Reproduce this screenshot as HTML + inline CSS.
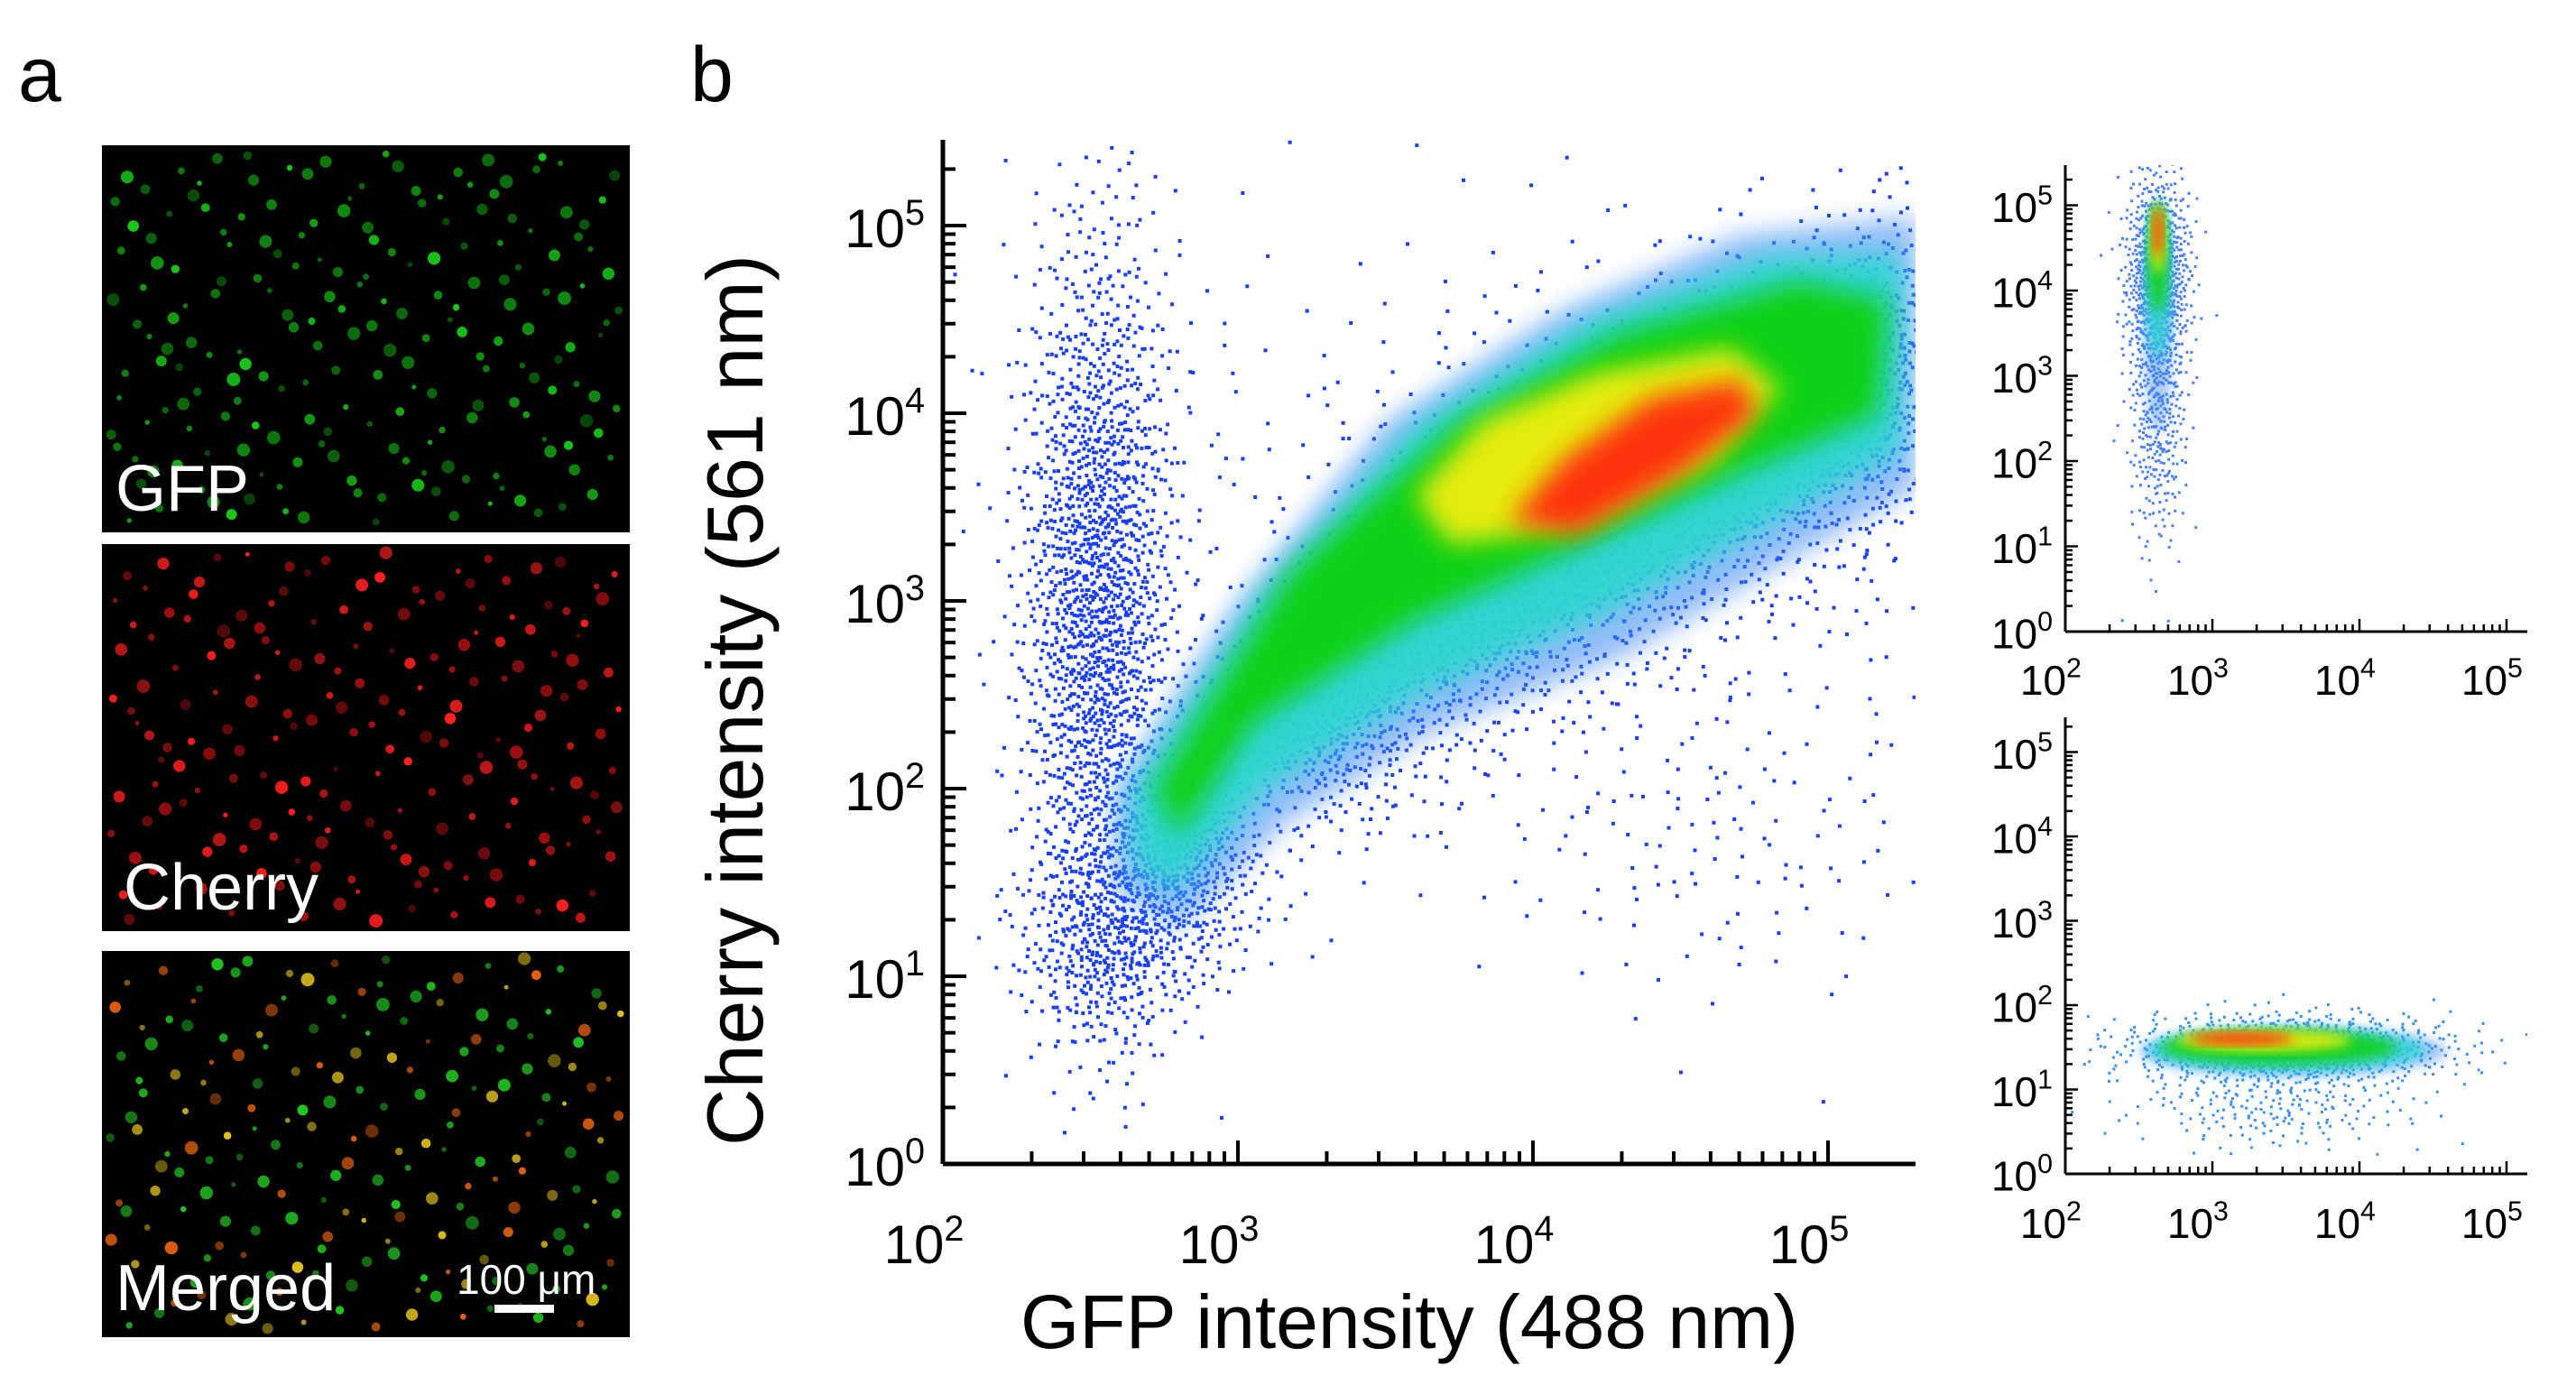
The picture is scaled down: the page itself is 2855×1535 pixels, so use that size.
<!DOCTYPE html>
<html><head><meta charset="utf-8">
<style>
html,body{margin:0;padding:0;background:#fff;}
svg{display:block;}
text{font-family:"Liberation Sans",Arial,sans-serif;}
.nar{font-family:"Liberation Sans Narrow","Liberation Sans",sans-serif;}
</style></head>
<body>
<svg id="fig" width="2855" height="1535" viewBox="0 0 2855 1535" xmlns="http://www.w3.org/2000/svg">
<defs>
<filter id="blur" x="-20%" y="-20%" width="140%" height="140%"><feGaussianBlur stdDeviation="14"/></filter>
<filter id="blurS" x="-20%" y="-20%" width="140%" height="140%"><feGaussianBlur stdDeviation="6"/></filter>
</defs>
<text x="20" y="112" font-size="86">a</text>
<text x="765" y="112" font-size="86">b</text>
<g id="panelA"></g>
<g id="main"></g>
<g id="inset1"></g>
<g id="inset2"></g>
</svg>
<script>
// ---------- data ----------
const xTickExps = [2, 3, 4, 5];
const yTickExps = [0, 1, 2, 3, 4, 5];
const mainBlueContour = [[2.58,2.0],[3.0,3.0],[3.5,3.95],[4.1,4.55],[4.7,4.95],[5.3,5.05],[5.3,3.6],[4.85,3.2],[4.3,2.7],[3.65,2.3],[3.15,1.8],[2.8,1.25],[2.58,1.45]];
const mainCyanContour = [[2.64,2.0],[3.08,3.05],[3.6,3.95],[4.18,4.5],[4.8,4.85],[5.25,4.85],[5.25,3.8],[4.8,3.4],[4.25,2.93],[3.62,2.5],[3.1,2.0],[2.78,1.45],[2.64,1.6]];
const mainGreenContour = [[2.72,2.0],[3.18,3.15],[3.74,3.95],[4.28,4.42],[4.9,4.7],[5.2,4.6],[5.17,4.0],[4.73,3.7],[4.17,3.3],[3.6,2.9],[3.05,2.35],[2.8,1.75]];
const mainYellowContour = [[3.6,3.56],[3.83,3.96],[4.22,4.22],[4.67,4.35],[4.84,4.13],[4.61,3.74],[4.17,3.39],[3.72,3.3]];
const mainRedContour = [[3.92,3.42],[4.1,3.75],[4.4,4.08],[4.7,4.18],[4.76,4.0],[4.5,3.68],[4.15,3.36]];
// scattered blue populations: [cx, cy, sdx, sdy, count]
const mainClusters = [[2.52,3.0,0.13,1.0,1800],[2.55,1.2,0.15,0.3,400],[4.0,3.6,0.75,0.75,350],[4.6,1.8,0.4,0.5,140],
  [2.8,1.6,0.15,0.3,500],[3.3,2.45,0.2,0.35,600],[3.8,3.05,0.22,0.4,700],[4.3,3.55,0.22,0.42,700],[4.8,3.95,0.22,0.45,700],[5.2,4.25,0.15,0.45,500]];
const inset1Contours = {blue:[2.63,3.7,0.1,1.4], cyan:[2.63,4.1,0.085,0.9], green:[2.63,4.4,0.07,0.65], yellow:[2.63,4.6,0.05,0.4], red:[2.63,4.68,0.035,0.28]};
const inset1Clusters = [[2.62,4.2,0.11,0.6,800],[2.62,2.6,0.1,0.8,350]];
const inset2Contours = {blue:[3.55,1.45,1.05,0.3], cyan:[3.5,1.47,0.95,0.26], green:[3.45,1.5,0.8,0.2], yellow:[3.35,1.58,0.6,0.13], red:[3.2,1.6,0.35,0.08]};
const inset2Clusters = [[3.5,1.5,0.55,0.2,1000],[3.4,0.8,0.5,0.25,200]];

// ---------- helpers ----------
const NS="http://www.w3.org/2000/svg";
function mk(tag,attrs,parent){const e=document.createElementNS(NS,tag);for(const k in attrs)e.setAttribute(k,attrs[k]);if(parent)parent.appendChild(e);return e;}
function halton(i,b){let f=1,r=0;while(i>0){f/=b;r+=f*(i%b);i=Math.floor(i/b);}return r;}
function gaussPair(i){const u=Math.max(1e-6,halton(i,2)),v=halton(i,3);const m=Math.sqrt(-2*Math.log(u));return [m*Math.cos(2*Math.PI*v),m*Math.sin(2*Math.PI*v)];}

function drawPlot(gid, cfg, contours, clusters, ellipses){
  const g=document.getElementById(gid);
  const X = v => cfg.x0 + (v - 2) * cfg.dx;
  const Y = v => cfg.y0 - v * cfg.dy;
  const clipId=gid+'clip';
  const cp=mk('clipPath',{id:clipId},g);
  mk('rect',{x:cfg.x0,y:cfg.top,width:cfg.xEnd-cfg.x0,height:cfg.y0-cfg.top},cp);
  const plot=mk('g',{'clip-path':'url(#'+clipId+')'},g);
  
  
  let idx=1;
  clusters.forEach(c=>{
    for(let k=0;k<c[4];k++){
      const [a,b]=gaussPair(idx++);
      const px=X(c[0]+a*c[2]), py=Y(c[1]+b*c[3]);
      if(py>cfg.y0-4||px<cfg.x0+4) continue;
      mk('rect',{x:px.toFixed(1),y:py.toFixed(1),width:cfg.dot,height:cfg.dot,fill:cfg.dotColor},plot);
    }
  });
  const layers=[['blue','#3b86f4'],['cyan','#2fd6d0'],['green','#11d011'],['yellow','#f2ee10'],['red','#ff2a0a']];
  layers.forEach(([k,col])=>{
    let el;
    if(contours){
      const pts=contours[k];
      el=mk('polygon',{points:pts.map(p=>X(p[0]).toFixed(1)+','+Y(p[1]).toFixed(1)).join(' '),fill:col,filter:'url(#'+cfg.blur+')',opacity:k==='blue'?0.55:0.95},plot);
    } else {
      const e=ellipses[k];
      el=mk('ellipse',{cx:X(e[0]),cy:Y(e[1]),rx:e[2]*cfg.dx,ry:e[3]*cfg.dy,fill:col,filter:'url(#'+cfg.blur+')',opacity:k==='blue'?0.45:0.85},plot);
    }
    
    
  });
  const ax=mk('g',{stroke:'#000','stroke-width':cfg.lw,fill:'none'},g);
  
  
  mk('line',{x1:cfg.x0,y1:cfg.y0,x2:cfg.xEnd,y2:cfg.y0},ax);
  mk('line',{x1:cfg.x0,y1:cfg.y0,x2:cfg.x0,y2:cfg.top},ax);
  for(let d=2; d<6; d++){
    for(let m=1;m<10;m++){
      const v=d+Math.log10(m); if(X(v)>cfg.xEnd) break;
      const L=m===1?cfg.maj:cfg.min;
      mk('line',{x1:X(v),y1:cfg.y0,x2:X(v),y2:cfg.y0-L,'stroke-width':cfg.tw},ax);
    }
  }
  for(let d=0; d<6; d++){
    for(let m=1;m<10;m++){
      const v=d+Math.log10(m); if(Y(v)<cfg.top) break;
      const L=m===1?cfg.maj:cfg.min;
      mk('line',{x1:cfg.x0,y1:Y(v),x2:cfg.x0+L,y2:Y(v),'stroke-width':cfg.tw},ax);
    }
  }
  xTickExps.forEach(e=>{
    const t=mk('text',{x:X(e)-cfg.fs*0.35,y:cfg.xlabY,'font-size':cfg.fs,'text-anchor':'middle',class:cfg.cls},g);
    
    
    t.textContent='10';
    const s=mk('tspan',{dy:-cfg.fs*0.42,'font-size':cfg.fs*0.66},t); s.textContent=e;
  });
  yTickExps.forEach(e=>{
    const t=mk('text',{x:cfg.x0-cfg.ylabGap,y:Y(e)+cfg.fs*0.4,'font-size':cfg.fs,'text-anchor':'end',class:cfg.cls},g);
    
    
    t.textContent='10';
    const s=mk('tspan',{dy:-cfg.fs*0.42,'font-size':cfg.fs*0.66},t); s.textContent=e;
  });
}

drawPlot('main',{x0:1045,y0:1290,dx:327,dy:208,xEnd:2123,top:155,lw:5,tw:4,maj:26,min:14,fs:60,xlabY:1400,ylabGap:20,dot:4,dotColor:'#1a3ff0',blur:'blur',cls:''},
  {blue:mainBlueContour,cyan:mainCyanContour,green:mainGreenContour,yellow:mainYellowContour,red:mainRedContour}, mainClusters, null);
drawPlot('inset1',{x0:2289,y0:700,dx:163,dy:94.5,xEnd:2801,top:183,lw:3,tw:2.5,maj:14,min:8,fs:46,xlabY:770,ylabGap:14,dot:3,dotColor:'#4a80f2',blur:'blurS',cls:'nar'},
  null, inset1Clusters, inset1Contours);
drawPlot('inset2',{x0:2289,y0:1301,dx:163,dy:93.5,xEnd:2801,top:795,lw:3,tw:2.5,maj:14,min:8,fs:46,xlabY:1372,ylabGap:14,dot:3,dotColor:'#3a90f2',blur:'blurS',cls:'nar'},
  null, inset2Clusters, inset2Contours);

const mainG=document.getElementById('main');
let t=mk('text',{x:1562,y:1494,'font-size':84,'text-anchor':'middle'},mainG);


t.textContent='GFP intensity  (488 nm)';
t=mk('text',{x:0,y:0,'font-size':88,'text-anchor':'middle',transform:'translate(845,776) rotate(-90)'},mainG);


t.textContent='Cherry  intensity  (561 nm)';

const pa=document.getElementById('panelA');
const panels=[{y:161,h:429,label:'GFP',ly:566,lx:128,col:['#19c819','#0f8f0f']},
              {y:603,h:429,label:'Cherry',ly:1008,lx:137,col:['#ff2020','#a01010']},
              {y:1054,h:428,label:'Merged',ly:1452,lx:128,col:['#22c822','#e0c020','#22b022','#e06010']}];
panels.forEach((p,pi)=>{
  const g=mk('g',{},pa);
  
  
  mk('rect',{x:113,y:p.y,width:585,height:p.h,fill:'#000'},g);
  for(let i=1;i<=200;i++){
    const x=113+8+halton(i+pi*37,2)*569, y=p.y+8+halton(i+pi*37,3)*(p.h-16);
    const r=2.5+halton(i,5)*5;
    const c=p.col[Math.floor(halton(i,11)*p.col.length)];
    mk('circle',{cx:x.toFixed(1),cy:y.toFixed(1),r:r.toFixed(1),fill:c,opacity:0.45+halton(i,7)*0.55},g);
  }
  const tx=mk('text',{x:p.lx,y:p.ly,'font-size':72,fill:'#fff'},g);
  
  
  tx.textContent=p.label;
});
t=mk('text',{x:506,y:1434,'font-size':46,fill:'#fff',class:'nar'},pa);


t.textContent='100 μm';
const sb=mk('rect',{x:548,y:1446,width:66,height:9,fill:'#fff'},pa);


</script>
</body></html>
